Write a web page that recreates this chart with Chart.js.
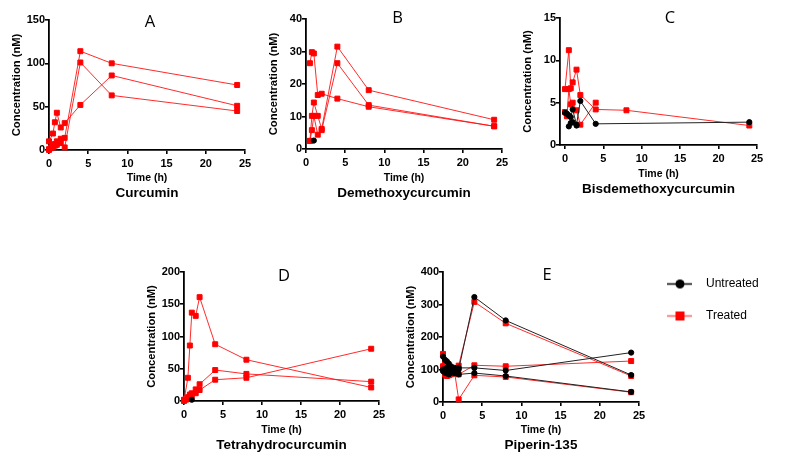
<!DOCTYPE html>
<html><head><meta charset="utf-8">
<script src="https://cdn.jsdelivr.net/npm/chart.js@4.4.1/dist/chart.umd.min.js"></script>
<style>
html,body{margin:0;padding:0;background:#fff;overflow:hidden;}
#wrap{position:relative;width:787px;height:462px;overflow:hidden;background:#fff;}
#wrap canvas{position:absolute;}
</style></head><body><div id="wrap"></div>
<script>
// ---------- DATA ----------
const times = [0, 0.25, 0.5, 0.75, 1, 1.5, 2, 4, 8, 24];
const timeTicks = [0, 5, 10, 15, 20, 25];

// A: Curcumin
const curcuminYTicks = [0, 50, 100, 150];
const curcuminTreated1 = [0, 2, 5, 7, 10, 13, 14, 114, 100, 75];
const curcuminTreated2 = [1, 3, 3, 5, 6, 8, 3, 101, 63, 45];
const curcuminTreated3 = [10, null, 19, 32, 43, 26, 31, 52, 86, 51];

// B: Demethoxycurcumin
const demethoxyYTicks = [0, 10, 20, 30, 40];
const demethoxyUntreated = [null, null, null, null, 2.6, null, null, null, null, null];
const demethoxyTreated1 = [null, null, 2.5, 10.2, 14.3, 10.2, 6.2, 31.5, 18.1, 9];
const demethoxyTreated2 = [null, null, 2.5, 5.8, 10.2, 4.4, 5.8, 26.4, 13.5, 7];
const demethoxyTreated3 = [null, null, 26.4, 29.8, 29.4, 16.6, 17, 15.5, 13, 7];

// C: Bisdemethoxycurcumin
const bisdemethoxyYTicks = [0, 5, 10, 15];
const bisdemethoxyUntreated1 = [3.8, 3.7, 3.5, 3.3, 4.2, 2.4, 5.2, 2.5, null, 2.7];
const bisdemethoxyUntreated2 = [null, null, 2.2, 2.6, 2.7, 2.3, null, null, null, null];
const bisdemethoxyTreated1 = [6.6, null, 11.2, 6.7, 7.4, 8.9, 5.9, 4.2, 4.1, 2.3];
const bisdemethoxyTreated2 = [3.9, 3.4, 6.6, 4.8, 5.0, 4.1, 2.4, 5.0, null, null];

// D: Tetrahydrocurcumin
const tetrahydroYTicks = [0, 50, 100, 150, 200];
const tetrahydroUntreated = [null, null, null, null, 2, null, null, null, null, null];
const tetrahydroTreated1 = [1, null, 36, 86, 137, 132, 161, 88, 64, 21];
const tetrahydroTreated2 = [2, 4, 6, 10, 12, 18, 26, 48, 42, 30];
const tetrahydroTreated3 = [0, 2, 3, 6, 8, 12, 17, 33, 36, 81];

// E: Piperin-135
const piperinYTicks = [0, 100, 200, 300, 400];
const piperinUntreated1 = [140, 130, 125, 118, 110, 105, 100, 323, 251, 83];
const piperinUntreated2 = [100, 95, 105, 100, 98, 102, 105, 105, 97, 152];
const piperinUntreated3 = [95, 90, 88, 85, 90, 88, 85, 89, 80, 31];
const piperinTreated1 = [148, 125, 115, 108, 100, 98, 112, 308, 242, 80];
const piperinTreated2 = [110, 100, 95, 105, 108, 100, 85, 113, 110, 126];
const piperinTreated3 = [105, 85, 80, 82, 85, 88, 8, 82, 77, 30];

// ---------- STYLE / LAYOUT ----------
const FF = "'Liberation Sans', Arial, sans-serif";
const wrap = document.getElementById('wrap');
const tickFont = {family: FF, size: 11, weight: 'bold', lineHeight: 1.2};
const xTitleFont = {family: FF, size: 10.5, weight: 'bold', lineHeight: 1.2};
const yTitleFont = {family: FF, size: 11.2, weight: 'bold', lineHeight: 1.2};
const redLine = 'rgba(255,20,20,0.9)';

function pts(arr) {
  return times.map((t, i) => arr[i] == null ? null : {x: t, y: arr[i]}).filter(Boolean);
}
const redStyle = {showLine: true, borderColor: redLine, borderWidth: 1, backgroundColor: '#f00',
  pointStyle: 'rect', pointRadius: 3.5, pointBorderWidth: 1, pointBackgroundColor: '#f00',
  pointBorderColor: '#f00', clip: false, xAxisID: 'x', yAxisID: 'y'};
const blackStyle = {showLine: true, borderColor: '#222', borderWidth: 1, backgroundColor: '#000',
  pointStyle: 'circle', pointRadius: 2.6, pointBorderWidth: 1, pointBackgroundColor: '#000',
  pointBorderColor: '#000', clip: false, xAxisID: 'x', yAxisID: 'y'};

const panels = [
  {letter: 'A', name: 'Curcumin', yTicks: curcuminYTicks, xMin: 0,
   untreated: [], treated: [curcuminTreated1, curcuminTreated2, curcuminTreated3],
   g: {L: 49, R: 245, T: 20, B: 150, letterY: 22.5, xTitleY: 178, nameY: 193, w: 55}},
  {letter: 'B', name: 'Demethoxycurcumin', yTicks: demethoxyYTicks, xMin: 0,
   untreated: [demethoxyUntreated], treated: [demethoxyTreated1, demethoxyTreated2, demethoxyTreated3],
   g: {L: 306, R: 502, T: 19, B: 149, letterY: 18.7, xTitleY: 177.7, nameY: 193.3, w: 36}},
  {letter: 'C', name: 'Bisdemethoxycurcumin', yTicks: bisdemethoxyYTicks, xMin: -0.65,
   untreated: [bisdemethoxyUntreated1, bisdemethoxyUntreated2], treated: [bisdemethoxyTreated1, bisdemethoxyTreated2],
   g: {L: 560, R: 757, T: 18, B: 145, letterY: 18.5, xTitleY: 174, nameY: 189.3, w: 72}},
  {letter: 'D', name: 'Tetrahydrocurcumin', yTicks: tetrahydroYTicks, xMin: 0,
   untreated: [tetrahydroUntreated], treated: [tetrahydroTreated1, tetrahydroTreated2, tetrahydroTreated3],
   g: {L: 184, R: 379, T: 272, B: 401, letterY: 275.8, xTitleY: 430, nameY: 445, w: 54}},
  {letter: 'E', name: 'Piperin-135', yTicks: piperinYTicks, xMin: 0,
   untreated: [piperinUntreated1, piperinUntreated2, piperinUntreated3],
   treated: [piperinTreated1, piperinTreated2, piperinTreated3],
   g: {L: 443, R: 639, T: 272, B: 402, letterY: 275.5, xTitleY: 430, nameY: 445, w: 61}}
];

function axisCommon() {
  return {
    grid: {display: true, drawOnChartArea: false, drawTicks: true, tickLength: 4, color: '#000', lineWidth: 1.6},
    border: {display: true, color: '#000', width: 1.8}
  };
}

function build(p) {
  const g = p.g, yW = 49, topH = 20;
  const left = g.L - yW, top = g.T - topH;
  const xH = g.xTitleY - g.B + 6.3;
  const subPt = g.nameY - g.B - xH - 8.1;
  const subH = 16.2 + subPt;
  const height = Math.ceil(g.B - top + xH + subH + 1);
  const padBottom = height - (g.B - top) - xH - subH;
  const titlePb = g.T - 9.9 - g.letterY, titlePt = topH - 19.8 - titlePb;
  const width = yW + (g.R - g.L) + g.w;
  const c = document.createElement('canvas');
  c.width = width; c.height = height;
  c.style.left = left + 'px'; c.style.top = top + 'px';
  c.style.width = width + 'px'; c.style.height = height + 'px';
  wrap.appendChild(c);
  const datasets = [];
  p.untreated.forEach(a => datasets.push(Object.assign({}, blackStyle, {label: 'Untreated', data: pts(a)})));
  p.treated.forEach(a => datasets.push(Object.assign({}, redStyle, {label: 'Treated', data: pts(a)})));
  new Chart(c, {
    type: 'scatter',
    data: {datasets},
    options: {
      responsive: false, animation: false, devicePixelRatio: 1, events: [],
      layout: {padding: {left: 0, right: 0, top: 0, bottom: padBottom}},
      plugins: {
        legend: {display: false}, tooltip: {enabled: false},
        title: {display: true, text: p.letter, position: 'top', fullSize: true, color: '#000',
          font: {family: "'Open Sans', sans-serif", size: 16.5, weight: 'normal', lineHeight: 1.2},
          padding: {top: titlePt, bottom: titlePb}},
        subtitle: {display: true, text: p.name, position: 'bottom', fullSize: false, color: '#000',
          font: {family: FF, size: 13.5, weight: 'bold', lineHeight: 1.2},
          padding: {top: subPt, bottom: 0}}
      },
      scales: {
        x: Object.assign(axisCommon(), {
          type: 'linear', position: 'bottom', min: p.xMin, max: timeTicks[timeTicks.length - 1],
          afterBuildTicks: s => { s.ticks = timeTicks.map(v => ({value: v})); },
          afterFit: s => { s.height = xH; },
          ticks: {font: tickFont, color: '#000', padding: 3, maxRotation: 0, autoSkip: false},
          title: {display: true, text: 'Time (h)', font: xTitleFont, color: '#000', padding: {top: 0, bottom: 0}}
        }),
        y: Object.assign(axisCommon(), {
          type: 'linear', position: 'left', min: 0, max: p.yTicks[p.yTicks.length - 1],
          afterBuildTicks: s => { s.ticks = p.yTicks.map(v => ({value: v})); },
          afterFit: s => { s.width = yW; },
          ticks: {font: tickFont, color: '#000', padding: 0, autoSkip: false},
          title: {display: true, text: 'Concentration (nM)', font: yTitleFont, color: '#000', padding: {top: 9.7, bottom: 0}}
        }),
        pad: {type: 'linear', position: 'right', display: true,
          ticks: {display: false}, grid: {display: false}, border: {display: false},
          afterFit: s => { s.width = g.w; }}
      }
    }
  });
}
panels.forEach(build);

// ---------- LEGEND ----------
function legendIcon(kind) {
  const c = document.createElement('canvas');
  c.width = 33; c.height = 13;
  const x = c.getContext('2d');
  x.strokeStyle = kind === 'u' ? '#000' : 'rgba(255,40,40,0.75)';
  x.lineWidth = 1.5;
  x.beginPath(); x.moveTo(0, 6.5); x.lineTo(25, 6.5); x.stroke();
  if (kind === 'u') { x.fillStyle = '#000'; x.beginPath(); x.arc(13, 6.5, 4.5, 0, Math.PI * 2); x.fill(); }
  else { x.fillStyle = '#f00'; x.fillRect(8.5, 2, 9, 9); }
  return c;
}
const iconU = legendIcon('u'), iconT = legendIcon('t');
const lc = document.createElement('canvas');
lc.width = 280; lc.height = 110;
lc.style.left = '647px'; lc.style.top = '258px'; lc.style.width = '280px'; lc.style.height = '110px';
wrap.appendChild(lc);
new Chart(lc, {
  type: 'scatter',
  data: {datasets: [{label: 'Untreated', data: []}, {label: 'Treated', data: []}]},
  options: {
    responsive: false, animation: false, devicePixelRatio: 1, events: [],
    layout: {padding: 0},
    scales: {x: {display: false}, y: {display: false}},
    plugins: {
      tooltip: {enabled: false},
      legend: {display: true, position: 'left', align: 'start',
        labels: {usePointStyle: true, pointStyleWidth: 33, padding: 20, color: '#000',
          font: {family: FF, size: 12, lineHeight: 1.2},
          generateLabels: () => [
            {text: 'Untreated', pointStyle: iconU, fillStyle: '#000', strokeStyle: '#000', lineWidth: 0, hidden: false, datasetIndex: 0, fontColor: '#000'},
            {text: 'Treated', pointStyle: iconT, fillStyle: '#f00', strokeStyle: '#f00', lineWidth: 0, hidden: false, datasetIndex: 1, fontColor: '#000'}
          ]}}
    }
  }
});
</script></body></html>
